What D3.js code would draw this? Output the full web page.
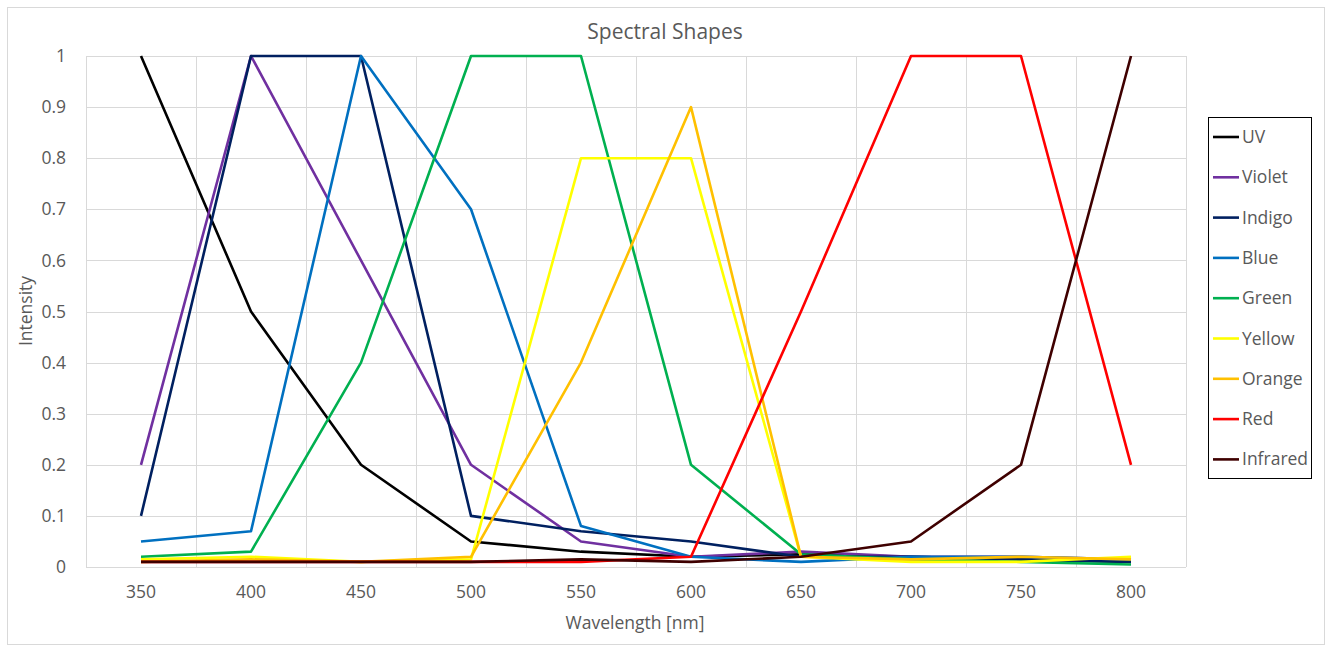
<!DOCTYPE html>
<html>
<head>
<meta charset="utf-8">
<script src="https://cdn.jsdelivr.net/npm/d3@7"></script>
<style>
  body { margin: 0; background: #fff; }
  svg text { font-family: "Open Sans", "Liberation Sans", sans-serif; }
</style>
</head>
<body>
<div id="chart"></div>
<script>
// wavelength categories
const wavelengths = [350, 400, 450, 500, 550, 600, 650, 700, 750, 800];
const yTicks = [0, 0.1, 0.2, 0.3, 0.4, 0.5, 0.6, 0.7, 0.8, 0.9, 1];

// series values (intensity)
const uv       = [1, 0.5, 0.2, 0.05, 0.03, 0.02, 0.025, 0.02, 0.015, 0.01];
const violet   = [0.2, 1, 0.6, 0.2, 0.05, 0.02, 0.03, 0.02, 0.02, 0.015];
const indigo   = [0.1, 1, 1, 0.1, 0.07, 0.05, 0.02, 0.02, 0.015, 0.01];
const blue     = [0.05, 0.07, 1, 0.7, 0.08, 0.02, 0.01, 0.02, 0.02, 0.015];
const green    = [0.02, 0.03, 0.4, 1, 1, 0.2, 0.025, 0.015, 0.01, 0.005];
const yellow   = [0.015, 0.02, 0.01, 0.015, 0.8, 0.8, 0.02, 0.01, 0.01, 0.02];
const orange   = [0.01, 0.015, 0.01, 0.02, 0.4, 0.9, 0.02, 0.015, 0.02, 0.015];
const red      = [0.01, 0.01, 0.01, 0.01, 0.01, 0.02, 0.5, 1, 1, 0.2];
const infrared = [0.01, 0.01, 0.01, 0.01, 0.015, 0.01, 0.02, 0.05, 0.2, 1];

const seriesNames  = ["UV", "Violet", "Indigo", "Blue", "Green", "Yellow", "Orange", "Red", "Infrared"];
const seriesValues = [uv, violet, indigo, blue, green, yellow, orange, red, infrared];
const seriesColors = ["#000000", "#7030A0", "#002060", "#0070C0", "#00B050", "#FFFF00", "#FFC000", "#FF0000", "#3F0000"];

const width = 1331, height = 651;
const plot = { left: 86, right: 1186, top: 56, bottom: 567 };
const fontSize = "17.5px";

const svg = d3.select("#chart").append("svg")
    .attr("width", width)
    .attr("height", height);

// Outer border
svg.append("rect")
    .attr("x", 7.5).attr("y", 7.5)
    .attr("width", 1317).attr("height", 637)
    .attr("fill", "#fff")
    .attr("stroke", "#d9d9d9");

const x = d3.scaleBand()
    .domain(wavelengths)
    .range([plot.left, plot.right]);

const y = d3.scaleLinear()
    .domain([0, 1])
    .range([plot.bottom, plot.top]);

// Horizontal grid
svg.append("g")
    .selectAll("line")
    .data(yTicks)
    .join("line")
    .attr("x1", plot.left).attr("x2", plot.right)
    .attr("y1", d => Math.round(y(d)) + 0.5).attr("y2", d => Math.round(y(d)) + 0.5)
    .attr("stroke", "#d9d9d9")
    .attr("stroke-width", 1);

// Vertical grid (category boundaries)
svg.append("g")
    .selectAll("line")
    .data(wavelengths.concat(["end"]))
    .join("line")
    .attr("x1", (d, i) => Math.round(plot.left + i * x.bandwidth()) + 0.5)
    .attr("x2", (d, i) => Math.round(plot.left + i * x.bandwidth()) + 0.5)
    .attr("y1", plot.top).attr("y2", plot.bottom)
    .attr("stroke", "#d9d9d9")
    .attr("stroke-width", 1);

// Y axis labels
const yAxis = svg.append("g")
    .attr("transform", `translate(${plot.left - 20},0)`)
    .call(d3.axisLeft(y).tickValues(yTicks).tickSize(0).tickPadding(0).tickFormat(d3.format("~g")));
yAxis.select(".domain").remove();
yAxis.selectAll("text")
    .attr("fill", "#595959")
    .style("font-size", fontSize);

// X axis labels
const xAxis = svg.append("g")
    .attr("transform", `translate(0,${plot.bottom})`)
    .call(d3.axisBottom(x).tickSize(0).tickPadding(19));
xAxis.select(".domain").remove();
xAxis.selectAll("text")
    .attr("fill", "#595959")
    .style("font-size", fontSize);

// Lines
const line = d3.line()
    .x((d, i) => x(wavelengths[i]) + x.bandwidth() / 2)
    .y(d => y(d));

svg.append("g")
    .selectAll("path")
    .data(seriesValues)
    .join("path")
    .attr("d", d => line(d))
    .attr("fill", "none")
    .attr("stroke", (d, i) => seriesColors[i])
    .attr("stroke-width", 2.6)
    .attr("stroke-linejoin", "round");

// Title
svg.append("text")
    .attr("x", 665).attr("y", 39)
    .attr("text-anchor", "middle")
    .attr("fill", "#595959")
    .style("font-size", "21px")
    .text("Spectral Shapes");

// Axis titles
svg.append("text")
    .attr("x", 635).attr("y", 629)
    .attr("text-anchor", "middle")
    .attr("fill", "#595959")
    .style("font-size", fontSize)
    .text("Wavelength [nm]");

svg.append("text")
    .attr("transform", "translate(32,311) rotate(-90)")
    .attr("text-anchor", "middle")
    .attr("fill", "#595959")
    .style("font-size", fontSize)
    .text("Intensity");

// Legend
const legend = svg.append("g");
legend.append("rect")
    .attr("x", 1208.5).attr("y", 117.5)
    .attr("width", 103).attr("height", 361)
    .attr("fill", "#fff")
    .attr("stroke", "#000")
    .attr("stroke-width", 1);

const items = legend.selectAll("g.item")
    .data(seriesNames)
    .join("g")
    .attr("class", "item")
    .attr("transform", (d, i) => `translate(1213,${137 + i * 40.3})`);

items.append("line")
    .attr("x1", 0).attr("x2", 26)
    .attr("stroke", (d, i) => seriesColors[i])
    .attr("stroke-width", 2.6);

items.append("text")
    .attr("x", 29).attr("y", 6)
    .attr("fill", "#595959")
    .style("font-size", fontSize)
    .text(d => d);
</script>
</body>
</html>
